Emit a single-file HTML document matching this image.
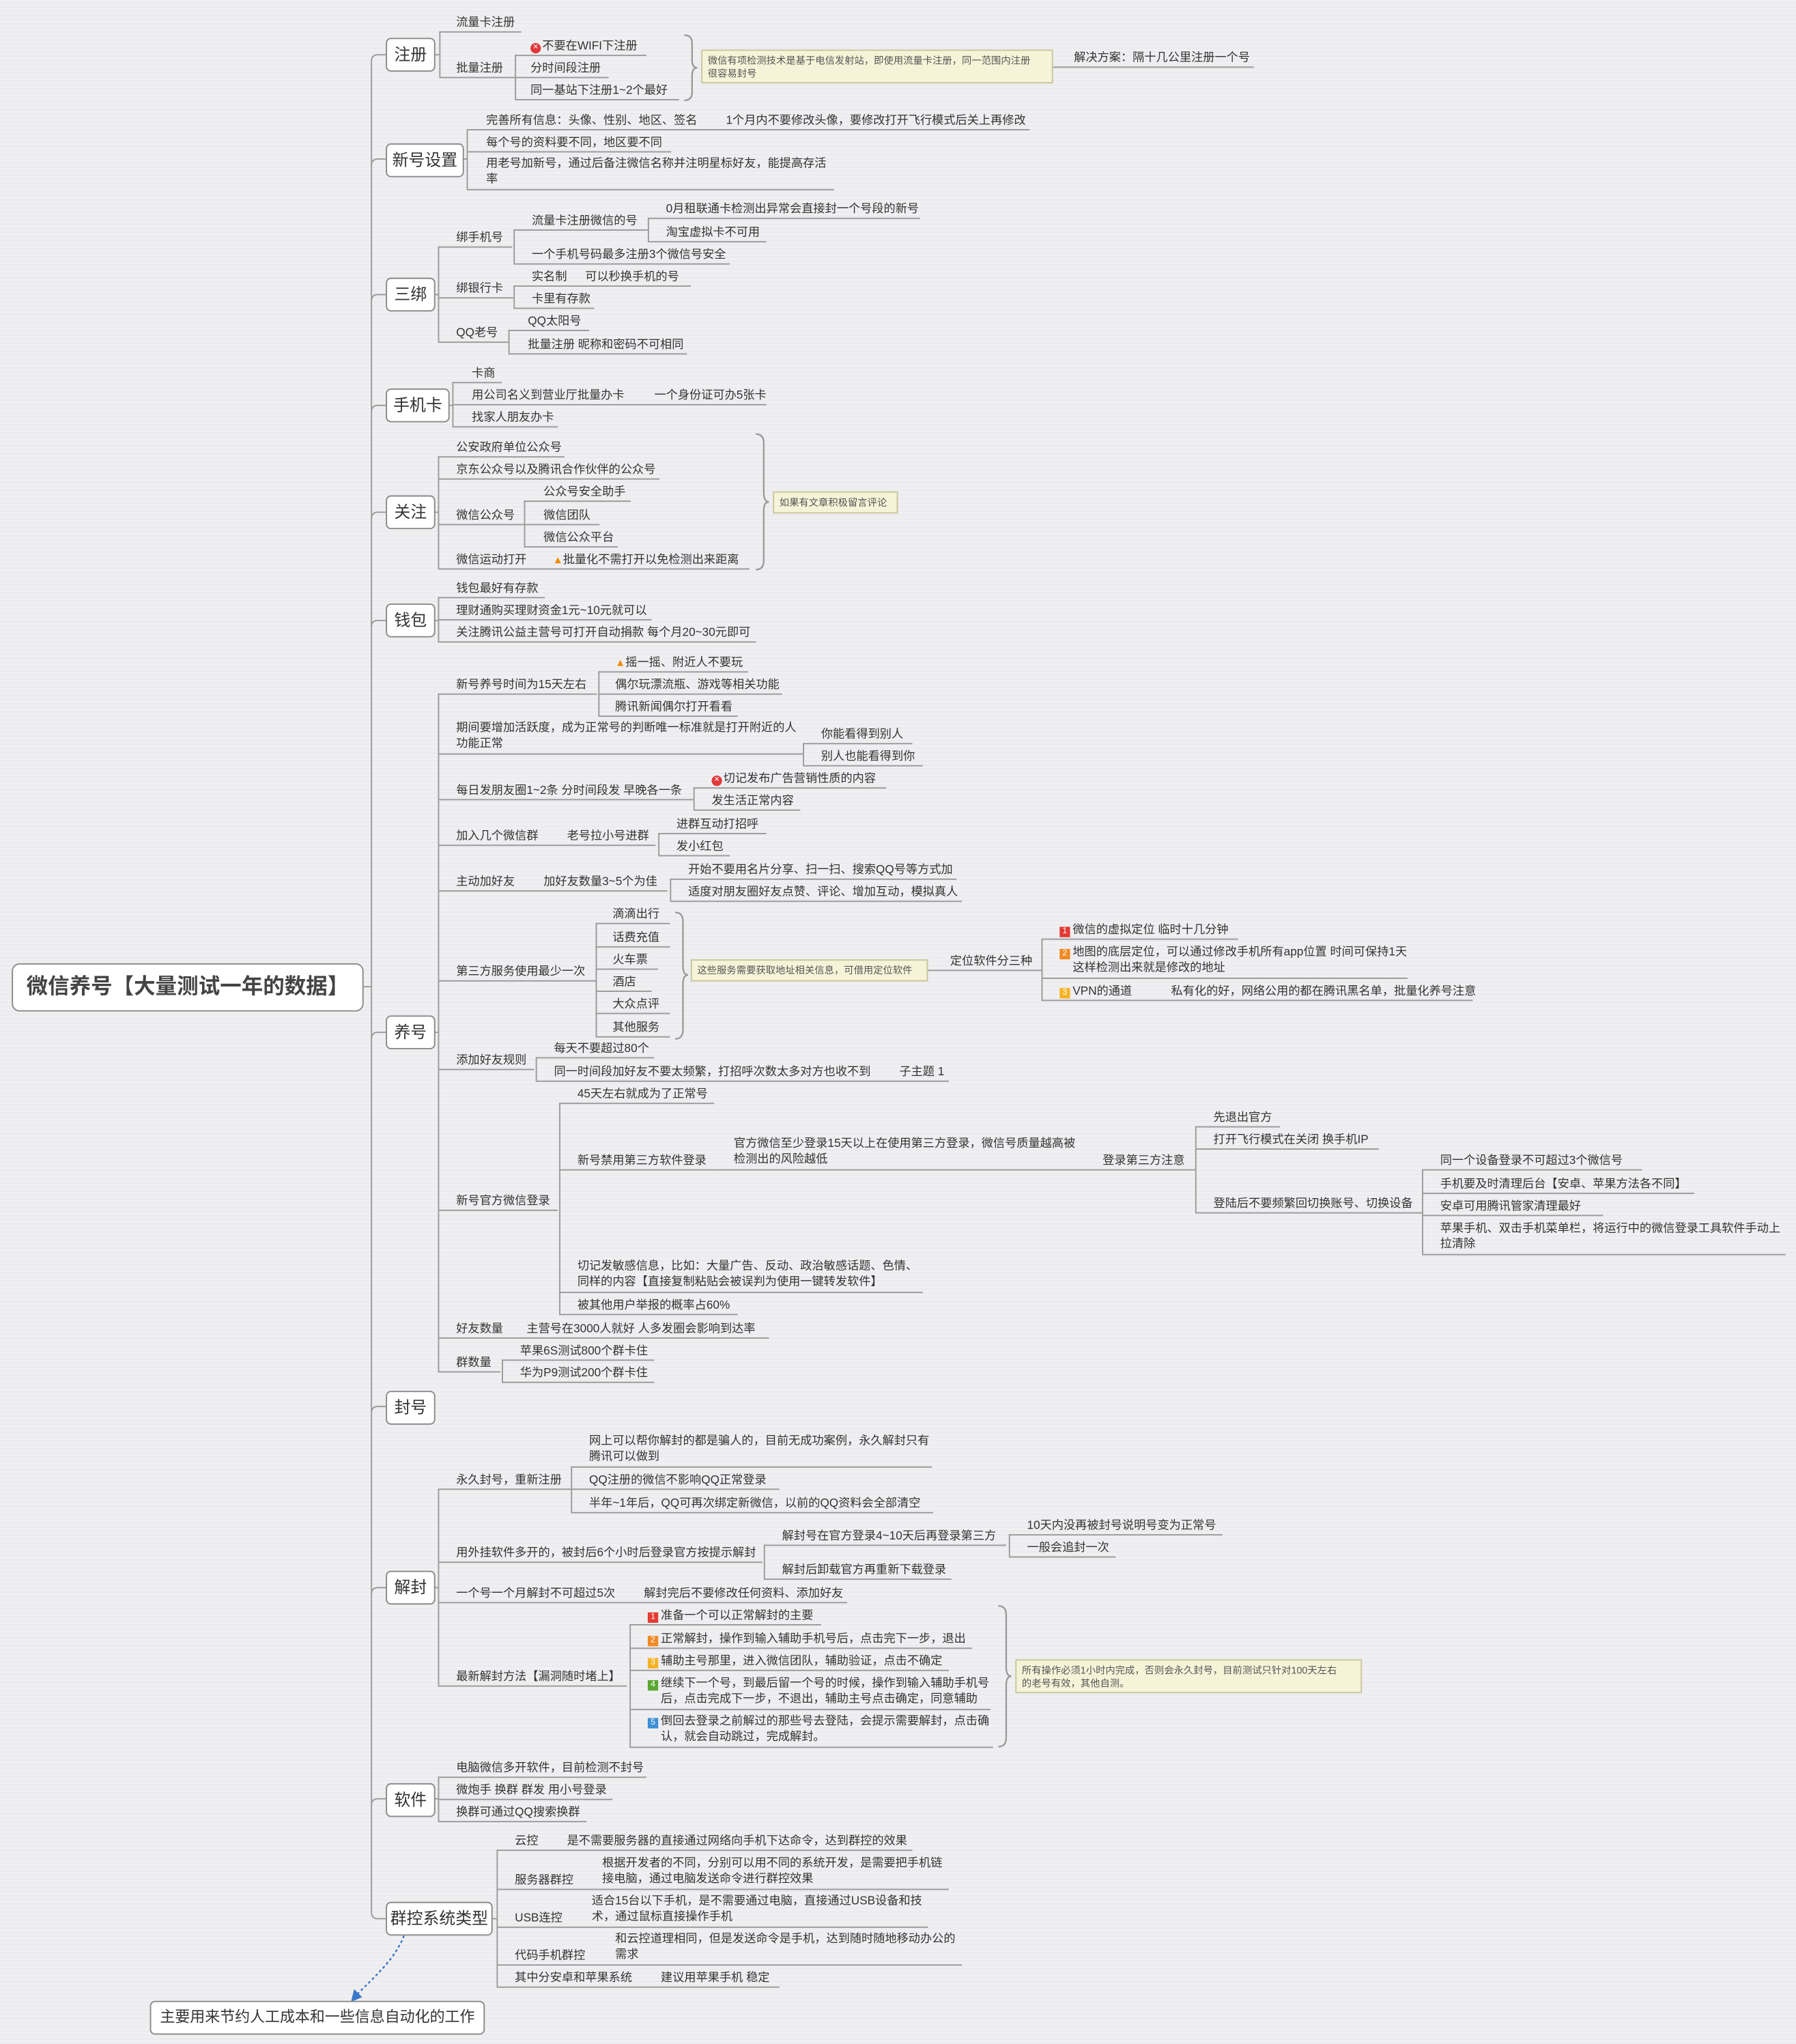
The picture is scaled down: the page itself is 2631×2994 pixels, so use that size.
<!DOCTYPE html>
<html><head><meta charset="utf-8"><style>
html,body{margin:0;padding:0;}
body{width:2631px;height:2994px;overflow:hidden;background:#ededf0;
background-image:repeating-linear-gradient(0deg,#ececef 0px,#ececef 3px,#f0f0f3 3px,#f0f0f3 6px);}
#w{position:absolute;left:0;top:0;width:1378px;height:1568px;transform:scale(1.90929);transform-origin:0 0;
font-family:"Liberation Sans","Noto Sans CJK SC","WenQuanYi Zen Hei",sans-serif;color:#333;}
.n{position:absolute;height:13px;border-bottom:1px solid #9a9a9a;font-size:9px;line-height:12px;white-space:nowrap;box-sizing:content-box;padding-right:0}
.n2{position:absolute;height:26px;border-bottom:1px solid #9a9a9a;font-size:9px;line-height:12px;white-space:nowrap}
.v{position:absolute;width:0;border-left:1px solid #9a9a9a}
.h{position:absolute;height:0;border-top:1px solid #9a9a9a}
.b{position:absolute;background:#fff;border:1px solid #8a8a8a;border-radius:4px;font-size:12.5px;text-align:center;line-height:24px;height:24px;color:#333}
.s{position:absolute;background:#f6f4d8;border:1px solid #c9c59c;font-size:7.5px;line-height:10px;padding:3px 4px;box-sizing:border-box;color:#555;white-space:nowrap}
.x{display:inline-block;width:8px;height:8px;border-radius:50%;background:#e0383a;color:#fff;font-size:7px;line-height:8px;text-align:center;vertical-align:0px;margin-right:1px}
.wn{color:#f08a00;font-size:8px}
.q{display:inline-block;width:8px;height:8px;color:#fff;font-size:6.5px;line-height:8px;text-align:center;margin-right:2px;vertical-align:0px}
</style></head><body><div id="w">
<svg width="1378" height="1568" style="position:absolute;left:0;top:0" fill="none" stroke="#9a9a9a" stroke-width="1">
<path d="M285 47 Q285 42 290 42 L296 42"/>
<path d="M285 47 L285 1467 Q285 1472 290 1472 L296 1472"/>
<path d="M285 127 Q285 122 290 122 L296 122"/>
<path d="M285 231 Q285 226 290 226 L296 226"/>
<path d="M285 316 Q285 311 290 311 L296 311"/>
<path d="M285 398 Q285 393 290 393 L296 393"/>
<path d="M285 481 Q285 476 290 476 L296 476"/>
<path d="M285 797 Q285 792 290 792 L296 792"/>
<path d="M285 1084 Q285 1079 290 1079 L296 1079"/>
<path d="M285 1223 Q285 1218 290 1218 L296 1218"/>
<path d="M285 1385 Q285 1380 290 1380 L296 1380"/>
<path d="M278 757 L285 757"/>
<path d="M333 42 L337 42 M355 122 L358 122 M333 226 L336 226 M344 311 L347 311 M333 393 L336 393 M333 476 L336 476 M333 792 L336 792 M333 1218 L336 1218 M333 1380 L336 1380 M377 1472 L381 1472"/>
<g stroke="#999" stroke-width="1.2">
<path d="M525 27 Q531 27 531 33 L531 46 Q531 52 535 52 Q531 52 531 58 L531 71 Q531 77 525 77"/>
<path d="M580 333 Q586 333 586 340 L586 378 Q586 385 590 385 Q586 385 586 392 L586 430 Q586 437 580 437"/>
<path d="M518 700 Q524 700 524 707 L524 741 Q524 748 528 748 Q524 748 524 755 L524 790 Q524 797 518 797"/>
<path d="M766 1232 Q772 1232 772 1239 L772 1279 Q772 1286 776 1286 Q772 1286 772 1293 L772 1333 Q772 1340 766 1340"/>
</g>
<path d="M310 1485 C303 1503 288 1516 273 1531" stroke="#3a78c8" stroke-dasharray="2,2" stroke-width="1.3"/>
<path d="M270 1535 L272 1527 L277 1532 Z" fill="#3a78c8" stroke="#3a78c8"/>
</svg>

<div class="b" style="left:9px;top:739px;width:268px;height:35px;line-height:35px;font-size:16.5px;font-weight:bold;color:#444;border-radius:6px">微信养号【大量测试一年的数据】</div>
<div class="b" style="left:296px;top:29px;width:36px">注册</div>
<div class="b" style="left:296px;top:110px;width:58px">新号设置</div>
<div class="b" style="left:296px;top:213px;width:36px">三绑</div>
<div class="b" style="left:296px;top:298px;width:47px">手机卡</div>
<div class="b" style="left:296px;top:380px;width:36px">关注</div>
<div class="b" style="left:296px;top:463px;width:36px">钱包</div>
<div class="b" style="left:296px;top:779px;width:36px">养号</div>
<div class="b" style="left:296px;top:1067px;width:36px">封号</div>
<div class="b" style="left:296px;top:1205px;width:36px">解封</div>
<div class="b" style="left:296px;top:1368px;width:36px">软件</div>
<div class="b" style="left:296px;top:1459px;width:80px">群控系统类型</div>
<div class="b" style="left:115px;top:1535px;width:255px;font-size:11.5px">主要用来节约人工成本和一些信息自动化的工作</div>

<!-- 注册 -->
<div class="v" style="left:337px;top:24px;height:35px"></div>
<div class="n" style="left:337px;top:11px;width:50px;padding-left:13px">流量卡注册</div>
<div class="n" style="left:337px;top:46px;width:45px;padding-left:13px">批量注册</div>
<div class="v" style="left:395px;top:42px;height:34px"></div>
<div class="n" style="left:395px;top:29px;width:89px;padding-left:12px"><span class="x">×</span>不要在WIFI下注册</div>
<div class="n" style="left:395px;top:46px;width:60px;padding-left:12px">分时间段注册</div>
<div class="n" style="left:395px;top:63px;width:114px;padding-left:12px">同一基站下注册1~2个最好</div>
<div class="s" style="left:538px;top:38px;width:270px;height:26px">微信有项检测技术是基于电信发射站，即使用流量卡注册，同一范围内注册<br>很容易封号</div>
<div class="n" style="left:808px;top:38px;width:138px;padding-left:16px">解决方案：隔十几公里注册一个号</div>

<!-- 新号设置 -->
<div class="v" style="left:358px;top:99px;height:46px"></div>
<div class="n" style="left:358px;top:86px;width:417px;padding-left:15px">完善所有信息：头像、性别、地区、签名<span style="margin-left:22px">1个月内不要修改头像，要修改打开飞行模式后关上再修改</span></div>
<div class="n" style="left:358px;top:103px;width:142px;padding-left:15px">每个号的资料要不同，地区要不同</div>
<div class="n2" style="left:358px;top:119px;width:267px;padding-left:15px">用老号加新号，通过后备注微信名称并注明星标好友，能提高存活<br>率</div>

<!-- 三绑 -->
<div class="v" style="left:336px;top:189px;height:73px"></div>
<div class="n" style="left:336px;top:176px;width:43px;padding-left:14px">绑手机号</div>
<div class="v" style="left:394px;top:176px;height:26px"></div>
<div class="n" style="left:394px;top:163px;width:89px;padding-left:14px">流量卡注册微信的号</div>
<div class="v" style="left:497px;top:167px;height:18px"></div>
<div class="n" style="left:497px;top:154px;width:195px;padding-left:14px">0月租联通卡检测出异常会直接封一个号段的新号</div>
<div class="n" style="left:497px;top:172px;width:77px;padding-left:14px">淘宝虚拟卡不可用</div>
<div class="n" style="left:394px;top:189px;width:152px;padding-left:14px">一个手机号码最多注册3个微信号安全</div>
<div class="n" style="left:336px;top:215px;width:44px;padding-left:14px">绑银行卡</div>
<div class="v" style="left:394px;top:219px;height:17px"></div>
<div class="n" style="left:394px;top:206px;width:122px;padding-left:14px">实名制<span style="margin-left:14px">可以秒换手机的号</span></div>
<div class="n" style="left:394px;top:223px;width:48px;padding-left:14px">卡里有存款</div>
<div class="n" style="left:336px;top:249px;width:40px;padding-left:14px">QQ老号</div>
<div class="v" style="left:390px;top:253px;height:18px"></div>
<div class="n" style="left:390px;top:240px;width:47px;padding-left:15px">QQ太阳号</div>
<div class="n" style="left:390px;top:258px;width:122px;padding-left:15px">批量注册 昵称和密码不可相同</div>

<!-- 手机卡 -->
<div class="v" style="left:347px;top:293px;height:34px"></div>
<div class="n" style="left:347px;top:280px;width:23px;padding-left:15px">卡商</div>
<div class="n" style="left:347px;top:297px;width:226px;padding-left:15px">用公司名义到营业厅批量办卡<span style="margin-left:23px">一个身份证可办5张卡</span></div>
<div class="n" style="left:347px;top:314px;width:66px;padding-left:15px">找家人朋友办卡</div>

<!-- 关注 -->
<div class="v" style="left:336px;top:350px;height:86px"></div>
<div class="n" style="left:336px;top:337px;width:83px;padding-left:14px">公安政府单位公众号</div>
<div class="n" style="left:336px;top:354px;width:156px;padding-left:14px">京东公众号以及腾讯合作伙伴的公众号</div>
<div class="n" style="left:336px;top:389px;width:52px;padding-left:14px">微信公众号</div>
<div class="v" style="left:402px;top:384px;height:35px"></div>
<div class="n" style="left:402px;top:371px;width:67px;padding-left:15px">公众号安全助手</div>
<div class="n" style="left:402px;top:389px;width:43px;padding-left:15px">微信团队</div>
<div class="n" style="left:402px;top:406px;width:57px;padding-left:15px">微信公众平台</div>
<div class="n" style="left:336px;top:423px;width:225px;padding-left:14px">微信运动打开<span style="margin-left:20px"><span class="wn">▲</span>批量化不需打开以免检测出来距离</span></div>
<div class="s" style="left:593px;top:377px;width:96px;height:17px;line-height:10px">如果有文章积极留言评论</div>

<!-- 钱包 -->
<div class="v" style="left:336px;top:458px;height:34px"></div>
<div class="n" style="left:336px;top:445px;width:68px;padding-left:14px">钱包最好有存款</div>
<div class="n" style="left:336px;top:462px;width:150px;padding-left:14px">理财通购买理财资金1元~10元就可以</div>
<div class="n" style="left:336px;top:479px;width:230px;padding-left:14px">关注腾讯公益主营号可打开自动捐款 每个月20~30元即可</div>

<!-- 养号 -->
<div class="v" style="left:336px;top:532px;height:520px"></div>
<div class="n" style="left:336px;top:519px;width:108px;padding-left:14px">新号养号时间为15天左右</div>
<div class="v" style="left:459px;top:515px;height:34px"></div>
<div class="n" style="left:459px;top:502px;width:102px;padding-left:13px"><span class="wn">▲</span>摇一摇、附近人不要玩</div>
<div class="n" style="left:459px;top:519px;width:128px;padding-left:13px">偶尔玩漂流瓶、游戏等相关功能</div>
<div class="n" style="left:459px;top:536px;width:94px;padding-left:13px">腾讯新闻偶尔打开看看</div>
<div class="n2" style="left:336px;top:552px;width:266px;padding-left:14px">期间要增加活跃度，成为正常号的判断唯一标准就是打开附近的人<br>功能正常</div>
<div class="v" style="left:616px;top:570px;height:17px"></div>
<div class="n" style="left:616px;top:557px;width:70px;padding-left:14px">你能看得到别人</div>
<div class="n" style="left:616px;top:574px;width:78px;padding-left:14px">别人也能看得到你</div>
<div class="n" style="left:336px;top:600px;width:182px;padding-left:14px">每日发朋友圈1~2条 分时间段发 早晚各一条</div>
<div class="v" style="left:532px;top:604px;height:17px"></div>
<div class="n" style="left:532px;top:591px;width:134px;padding-left:14px"><span class="x">×</span>切记发布广告营销性质的内容</div>
<div class="n" style="left:532px;top:608px;width:68px;padding-left:14px">发生活正常内容</div>
<div class="n" style="left:336px;top:635px;width:153px;padding-left:14px">加入几个微信群<span style="margin-left:22px">老号拉小号进群</span></div>
<div class="v" style="left:505px;top:639px;height:17px"></div>
<div class="n" style="left:505px;top:626px;width:69px;padding-left:14px">进群互动打招呼</div>
<div class="n" style="left:505px;top:643px;width:41px;padding-left:14px">发小红包</div>
<div class="n" style="left:336px;top:670px;width:162px;padding-left:14px">主动加好友<span style="margin-left:22px">加好友数量3~5个为佳</span></div>
<div class="v" style="left:514px;top:674px;height:17px"></div>
<div class="n" style="left:514px;top:661px;width:206px;padding-left:14px">开始不要用名片分享、扫一扫、搜索QQ号等方式加</div>
<div class="n" style="left:514px;top:678px;width:210px;padding-left:14px">适度对朋友圈好友点赞、评论、增加互动，模拟真人</div>
<div class="n" style="left:336px;top:739px;width:107px;padding-left:14px">第三方服务使用最少一次</div>
<div class="v" style="left:457px;top:708px;height:87px"></div>
<div class="n" style="left:457px;top:695px;width:44px;padding-left:13px">滴滴出行</div>
<div class="n" style="left:457px;top:713px;width:44px;padding-left:13px">话费充值</div>
<div class="n" style="left:457px;top:730px;width:35px;padding-left:13px">火车票</div>
<div class="n" style="left:457px;top:747px;width:30px;padding-left:13px">酒店</div>
<div class="n" style="left:457px;top:764px;width:44px;padding-left:13px">大众点评</div>
<div class="n" style="left:457px;top:782px;width:44px;padding-left:13px">其他服务</div>
<div class="s" style="left:530px;top:736px;width:182px;height:17px">这些服务需要获取地址相关信息，可借用定位软件</div>
<div class="n" style="left:712px;top:731px;width:70px;padding-left:17px">定位软件分三种</div>
<div class="v" style="left:799px;top:720px;height:47px"></div>
<div class="n" style="left:799px;top:707px;width:137px;padding-left:14px"><span class="q" style="background:#e23b33">1</span>微信的虚拟定位 临时十几分钟</div>
<div class="n2" style="left:799px;top:724px;width:267px;padding-left:14px"><span class="q" style="background:#f08a24">2</span>地图的底层定位，可以通过修改手机所有app位置 时间可保持1天<br><span style="margin-left:10px">这样检测出来就是修改的地址</span></div>
<div class="n" style="left:799px;top:754px;width:317px;padding-left:14px"><span class="q" style="background:#f5b324">3</span>VPN的通道<span style="margin-left:30px">私有化的好，网络公用的都在腾讯黑名单，批量化养号注意</span></div>
<div class="n" style="left:336px;top:807px;width:60px;padding-left:14px">添加好友规则</div>
<div class="v" style="left:411px;top:811px;height:18px"></div>
<div class="n" style="left:411px;top:798px;width:77px;padding-left:14px">每天不要超过80个</div>
<div class="n" style="left:411px;top:816px;width:303px;padding-left:14px">同一时间段加好友不要太频繁，打招呼次数太多对方也收不到<span style="margin-left:22px">子主题 1</span></div>
<div class="n" style="left:336px;top:915px;width:78px;padding-left:14px">新号官方微信登录</div>
<div class="v" style="left:429px;top:846px;height:162px"></div>
<div class="n" style="left:429px;top:833px;width:105px;padding-left:14px">45天左右就成为了正常号</div>
<div class="n" style="left:429px;top:884px;width:107px;padding-left:14px">新号禁用第三方软件登录</div>
<div class="n2" style="left:550px;top:871px;width:269px;padding-left:13px">官方微信至少登录15天以上在使用第三方登录，微信号质量越高被<br>检测出的风险越低</div>
<div class="n" style="left:832px;top:884px;width:71px;padding-left:14px">登录第三方注意</div>
<div class="v" style="left:917px;top:864px;height:66px"></div>
<div class="n" style="left:917px;top:851px;width:51px;padding-left:14px">先退出官方</div>
<div class="n" style="left:917px;top:868px;width:127px;padding-left:14px">打开飞行模式在关闭 换手机IP</div>
<div class="n" style="left:917px;top:917px;width:160px;padding-left:14px">登陆后不要频繁回切换账号、切换设备</div>
<div class="v" style="left:1091px;top:897px;height:65px"></div>
<div class="n" style="left:1091px;top:884px;width:155px;padding-left:14px">同一个设备登录不可超过3个微信号</div>
<div class="n" style="left:1091px;top:902px;width:195px;padding-left:14px">手机要及时清理后台【安卓、苹果方法各不同】</div>
<div class="n" style="left:1091px;top:919px;width:125px;padding-left:14px">安卓可用腾讯管家清理最好</div>
<div class="n2" style="left:1091px;top:936px;width:265px;padding-left:14px">苹果手机、双击手机菜单栏，将运行中的微信登录工具软件手动上<br>拉清除</div>
<div class="n2" style="left:429px;top:965px;width:265px;padding-left:14px">切记发敏感信息，比如：大量广告、反动、政治敏感话题、色情、<br>同样的内容【直接复制粘贴会被误判为使用一键转发软件】</div>
<div class="n" style="left:429px;top:995px;width:123px;padding-left:14px">被其他用户举报的概率占60%</div>
<div class="n" style="left:336px;top:1013px;width:240px;padding-left:14px">好友数量<span style="margin-left:18px">主营号在3000人就好 人多发圈会影响到达率</span></div>
<div class="n" style="left:336px;top:1039px;width:34px;padding-left:14px">群数量</div>
<div class="v" style="left:385px;top:1043px;height:17px"></div>
<div class="n" style="left:385px;top:1030px;width:103px;padding-left:14px">苹果6S测试800个群卡住</div>
<div class="n" style="left:385px;top:1047px;width:103px;padding-left:14px">华为P9测试200个群卡住</div>

<!-- 解封 -->
<div class="v" style="left:336px;top:1142px;height:151px"></div>
<div class="n" style="left:336px;top:1129px;width:88px;padding-left:14px">永久封号，重新注册</div>
<div class="v" style="left:438px;top:1125px;height:35px"></div>
<div class="n2" style="left:438px;top:1099px;width:263px;padding-left:14px">网上可以帮你解封的都是骗人的，目前无成功案例，永久解封只有<br>腾讯可以做到</div>
<div class="n" style="left:438px;top:1129px;width:146px;padding-left:14px">QQ注册的微信不影响QQ正常登录</div>
<div class="n" style="left:438px;top:1147px;width:264px;padding-left:14px">半年~1年后，QQ可再次绑定新微信，以前的QQ资料会全部清空</div>
<div class="n" style="left:336px;top:1185px;width:235px;padding-left:14px">用外挂软件多开的，被封后6个小时后登录官方按提示解封</div>
<div class="v" style="left:586px;top:1185px;height:26px"></div>
<div class="n" style="left:586px;top:1172px;width:172px;padding-left:14px">解封号在官方登录4~10天后再登录第三方</div>
<div class="v" style="left:774px;top:1177px;height:17px"></div>
<div class="n" style="left:774px;top:1164px;width:150px;padding-left:14px">10天内没再被封号说明号变为正常号</div>
<div class="n" style="left:774px;top:1181px;width:68px;padding-left:14px">一般会追封一次</div>
<div class="n" style="left:586px;top:1198px;width:130px;padding-left:14px">解封后卸载官方再重新下载登录</div>
<div class="n" style="left:336px;top:1216px;width:300px;padding-left:14px">一个号一个月解封不可超过5次<span style="margin-left:22px">解封完后不要修改任何资料、添加好友</span></div>
<div class="n" style="left:336px;top:1280px;width:131px;padding-left:14px">最新解封方法【漏洞随时堵上】</div>
<div class="v" style="left:483px;top:1246px;height:94px"></div>
<div class="n" style="left:483px;top:1233px;width:133px;padding-left:14px"><span class="q" style="background:#e23b33">1</span>准备一个可以正常解封的主要</div>
<div class="n" style="left:483px;top:1251px;width:249px;padding-left:14px"><span class="q" style="background:#f08a24">2</span>正常解封，操作到输入辅助手机号后，点击完下一步，退出</div>
<div class="n" style="left:483px;top:1268px;width:231px;padding-left:14px"><span class="q" style="background:#f5b324">3</span>辅助主号那里，进入微信团队，辅助验证，点击不确定</div>
<div class="n2" style="left:483px;top:1285px;width:263px;padding-left:14px"><span class="q" style="background:#5aa832">4</span>继续下一个号，到最后留一个号的时候，操作到输入辅助手机号<br><span style="margin-left:10px">后，点击完成下一步，不退出，辅助主号点击确定，同意辅助</span></div>
<div class="n2" style="left:483px;top:1314px;width:265px;padding-left:14px"><span class="q" style="background:#3b8fd6">5</span>倒回去登录之前解过的那些号去登陆，会提示需要解封，点击确<br><span style="margin-left:10px">认，就会自动跳过，完成解封。</span></div>
<div class="s" style="left:779px;top:1273px;width:266px;height:26px">所有操作必须1小时内完成，否则会永久封号，目前测试只针对100天左右<br>的老号有效，其他自测。</div>

<!-- 软件 -->
<div class="v" style="left:336px;top:1363px;height:34px"></div>
<div class="n" style="left:336px;top:1350px;width:146px;padding-left:14px">电脑微信多开软件，目前检测不封号</div>
<div class="n" style="left:336px;top:1367px;width:120px;padding-left:14px">微炮手 换群 群发 用小号登录</div>
<div class="n" style="left:336px;top:1384px;width:100px;padding-left:14px">换群可通过QQ搜索换群</div>

<!-- 群控系统类型 -->
<div class="v" style="left:381px;top:1419px;height:105px"></div>
<div class="n" style="left:381px;top:1406px;width:305px;padding-left:14px">云控<span style="margin-left:22px">是不需要服务器的直接通过网络向手机下达命令，达到群控的效果</span></div>
<div class="n" style="left:381px;top:1436px;width:53px;padding-left:14px">服务器群控</div>
<div class="n2" style="left:448px;top:1423px;width:266px;padding-left:14px">根据开发者的不同，分别可以用不同的系统开发，是需要把手机链<br>接电脑，通过电脑发送命令进行群控效果</div>
<div class="n" style="left:381px;top:1465px;width:45px;padding-left:14px">USB连控</div>
<div class="n2" style="left:440px;top:1452px;width:258px;padding-left:14px">适合15台以下手机，是不需要通过电脑，直接通过USB设备和技<br>术，通过鼠标直接操作手机</div>
<div class="n" style="left:381px;top:1494px;width:63px;padding-left:14px">代码手机群控</div>
<div class="n2" style="left:458px;top:1481px;width:266px;padding-left:14px">和云控道理相同，但是发送命令是手机，达到随时随地移动办公的<br>需求</div>
<div class="n" style="left:381px;top:1511px;width:203px;padding-left:14px">其中分安卓和苹果系统<span style="margin-left:22px">建议用苹果手机 稳定</span></div>
</div></body></html>
